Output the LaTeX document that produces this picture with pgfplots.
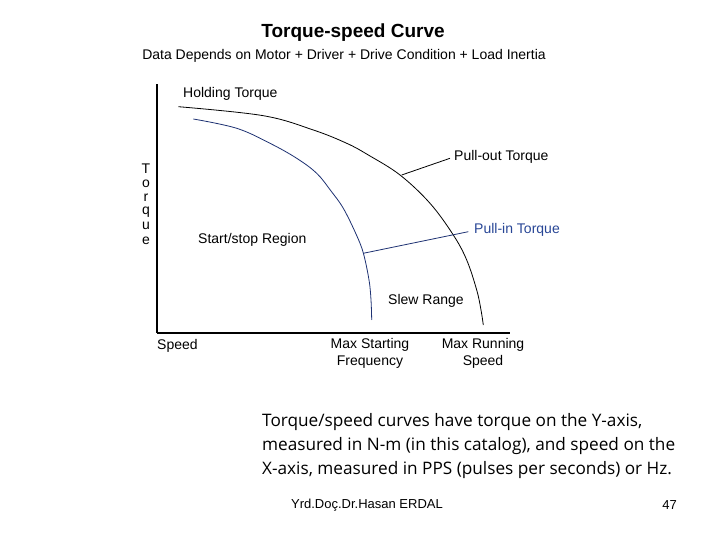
\documentclass[border=0pt]{standalone}
\usepackage{fontspec}
\setmainfont{Liberation Sans}
\newfontfamily\lowfont{Open Sans}
\usepackage{pgfplots}
\pgfplotsset{compat=1.18}
\definecolor{navy}{RGB}{30,50,115}
\definecolor{lblue}{RGB}{40,70,150}
\begin{document}
\begin{tikzpicture}[x=1pt,y=1pt]
\fill[white] (0,0) rectangle (720,540);
\begin{axis}[
  at={(157pt,207pt)}, anchor=south west,
  scale only axis, width=353pt, height=249pt,
  xmin=157, xmax=510, ymin=207, ymax=456,
  axis x line=bottom, axis y line=left,
  axis line style={-, line width=1.3pt, black},
  xtick=\empty, ytick=\empty, clip=false,
]
% Pull-out torque
\addplot[black, line width=0.8pt, smooth, tension=0.6] coordinates {
(178.3,433.3) (263.3,424.3) (313.3,410) (346.7,396.7) (368.3,385) (400,365) (430,336.7) (453.3,305) (466.7,280) (476.7,250) (481,230) (483.3,215)};
% Pull-in torque
\addplot[navy, line width=0.8pt, smooth, tension=0.6] coordinates {
(193.3,421) (236.7,411.7) (270,396.7) (296.7,381.7) (316.7,366.7) (331,349) (343.3,331.7) (356,306) (363.3,287) (369,260) (371,240) (371.7,220)};
% leaders
\addplot[black, line width=0.8pt] coordinates {(401.7,365) (450,381.7)};
\addplot[navy, line width=0.8pt] coordinates {(363.3,286.7) (468.3,308.3)};
\end{axis}
% chart labels
\begin{scope}[every node/.style={font=\fontsize{14}{16}\selectfont, inner sep=0pt}]
\node[anchor=west] at (183,446) {Holding Torque};
\node[anchor=west] at (454,383) {Pull-out Torque};
\node[anchor=west, text=lblue] at (474,310) {Pull-in Torque};
\node[anchor=west] at (198,300) {Start/stop Region};
\node[anchor=west] at (388,239) {Slew Range};
\node[anchor=west] at (157,194) {Speed};
\node at (370,195) {Max Starting};
\node at (370,178) {Frequency};
\node at (483,195) {Max Running};
\node at (483,178) {Speed};
\node at (146,371) {T};
\node at (146,356) {o};
\node at (146,342) {r};
\node at (146,328) {q};
\node at (146,314) {u};
\node at (146,299) {e};
\end{scope}
% titles
\node[font=\fontsize{19}{21}\selectfont\bfseries, inner sep=0pt] at (353,507) {Torque-speed Curve};
\node[font=\fontsize{14}{16}\selectfont, inner sep=0pt] at (344,484) {Data Depends on Motor + Driver + Drive Condition + Load Inertia};
% lower text
\begin{scope}[every node/.style={font=\lowfont\fontsize{17.2}{20}\selectfont, inner sep=0pt, anchor=west}]
\node at (262,118) {Torque/speed curves have torque on the Y-axis,};
\node at (262,94) {measured in N-m (in this catalog), and speed on the};
\node at (262,70) {X-axis, measured in PPS (pulses per seconds) or Hz.};
\end{scope}
% footer
\node[font=\fontsize{13}{15}\selectfont, inner sep=0pt] at (367,35) {Yrd.Doç.Dr.Hasan ERDAL};
\node[font=\fontsize{13}{15}\selectfont, inner sep=0pt, anchor=east] at (677,35) {47};
\end{tikzpicture}
\end{document}
